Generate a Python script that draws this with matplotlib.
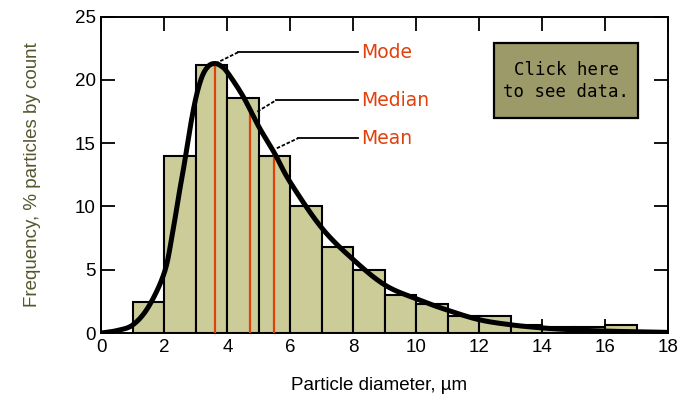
import numpy as np
import matplotlib
matplotlib.use("Agg")
import matplotlib.pyplot as plt
from matplotlib.patches import Rectangle

# Histogram data (bin left edges, width 1 um)
bin_left = [1, 2, 3, 4, 5, 6, 7, 8, 9, 10, 11, 12, 13, 14, 15, 16]
bar_freq = [2.45, 14.0, 21.2, 18.6, 14.0, 10.05, 6.8, 5.0, 3.0, 2.3, 1.35, 1.35, 0.6, 0.5, 0.5, 0.6]

# Fitted curve points
curve_x = [0, 0.5, 1.0, 1.5, 2.0, 2.25, 2.45, 2.6, 2.8, 3.0, 3.2, 3.4, 3.6, 3.8, 4.0, 4.5, 5.0, 5.5,
           6, 7, 8, 9, 10, 11, 12, 13, 14, 15, 16, 17, 18]
curve_y = [0, 0.2, 0.65, 2.1, 4.8, 7.8, 10.8, 12.9, 16.0, 18.6, 20.3, 21.1, 21.3, 21.1, 20.6, 18.7, 16.3, 14.2,
           11.9, 8.3, 5.8, 3.8, 2.7, 1.8, 1.05, 0.65, 0.4, 0.25, 0.15, 0.1, 0.05]

stat_names = ["Mode", "Median", "Mean"]
stat_x = [3.6, 4.72, 5.48]

x_ticks = [0, 2, 4, 6, 8, 10, 12, 14, 16, 18]
y_ticks = [0, 5, 10, 15, 20, 25]


def catmull_rom(xs, ys, n=20):
    xs = np.asarray(xs, float); ys = np.asarray(ys, float)
    px = np.concatenate([[2 * xs[0] - xs[1]], xs, [2 * xs[-1] - xs[-2]]])
    py = np.concatenate([[2 * ys[0] - ys[1]], ys, [2 * ys[-1] - ys[-2]]])
    ox, oy = [], []
    t = np.linspace(0, 1, n, endpoint=False)
    for i in range(1, len(px) - 2):
        for arr, out in ((px, ox), (py, oy)):
            p0, p1, p2, p3 = arr[i - 1], arr[i], arr[i + 1], arr[i + 2]
            out.extend(0.5 * ((2 * p1) + (-p0 + p2) * t + (2 * p0 - 5 * p1 + 4 * p2 - p3) * t ** 2
                              + (-p0 + 3 * p1 - 3 * p2 + p3) * t ** 3))
    ox.append(xs[-1]); oy.append(ys[-1])
    return np.array(ox), np.array(oy)


sx, sy = catmull_rom(curve_x, curve_y)
sy = np.clip(sy, 0, None)

W, H = 698, 403
fig = plt.figure(figsize=(W / 100, H / 100), dpi=100)
ax = fig.add_axes([101.5 / W, 1 - 333 / H, (668 - 101.5) / W, (333 - 16.7) / H])

ax.bar(bin_left, bar_freq, width=1.0, align="edge", color="#cccc99",
       edgecolor="black", linewidth=1.5, zorder=2)

stat_color = "#e0400c"
stat_h = [float(np.interp(v, sx, sy)) for v in stat_x]
for xv, hv in zip(stat_x, stat_h):
    ax.plot([xv, xv], [0, hv], color=stat_color, lw=1.6, zorder=3, solid_capstyle="butt")

ax.plot(sx, sy, color="black", lw=3.6, zorder=4, solid_capstyle="round")

# Leader lines and labels
leader_start = [(3.62, 21.3), (4.95, 17.5), (5.57, 14.6)]
leader_knee = [(4.35, 22.2), (5.55, 18.4), (6.25, 15.4)]
label_y = [22.2, 18.4, 15.4]
for name, (x0, y0), (x1, y1), ly in zip(stat_names, leader_start, leader_knee, label_y):
    ax.plot([x0, x1], [y0, y1], color="black", lw=1.3, dashes=(2.0, 1.0), zorder=5)
    ax.plot([x1, 8.15], [y1, y1], color="black", lw=1.3, zorder=5)
    ax.text(8.25, ly, name, color=stat_color, fontsize=13.5, va="center", ha="left",
            family="DejaVu Sans", zorder=6)

ax.set_xlim(0, 18)
ax.set_ylim(0, 25)
ax.set_xticks(x_ticks)
ax.set_yticks(y_ticks)
ax.tick_params(direction="in", length=10, width=1.3, top=True, right=True,
               labelsize=13.5, pad=4, colors="black")
for lab in ax.get_xticklabels() + ax.get_yticklabels():
    lab.set_family("Liberation Sans")
for sp in ax.spines.values():
    sp.set_linewidth(1.4)

ax.set_xlabel("Particle diameter, µm", fontsize=13.5, family="Liberation Sans")
ax.xaxis.set_label_coords(0.49, -0.138)
ax.set_ylabel("Frequency, % particles by count", fontsize=13.5, family="Liberation Sans",
              color="#55552e")
ax.yaxis.set_label_coords(-0.107, 0.5)

# "Click here" box
box_x0, box_x1, box_y0, box_y1 = 494, 638, 118, 42.7
ax.add_patch(Rectangle(((box_x0 - 101.5) / (668 - 101.5), (333 - box_y0) / (333 - 16.7)),
                       (box_x1 - box_x0) / (668 - 101.5), (box_y0 - box_y1) / (333 - 16.7),
                       transform=ax.transAxes, facecolor="#9c9a68", edgecolor="black",
                       linewidth=1.6, zorder=7))
ax.text(((box_x0 + box_x1) / 2 - 101.5) / (668 - 101.5), (333 - 81) / (333 - 16.7),
        "Click here\nto see data.", transform=ax.transAxes, fontsize=12.5, ha="center",
        va="center", family="DejaVu Sans Mono", linespacing=1.35, zorder=8)

fig.savefig("out.png", dpi=100)
